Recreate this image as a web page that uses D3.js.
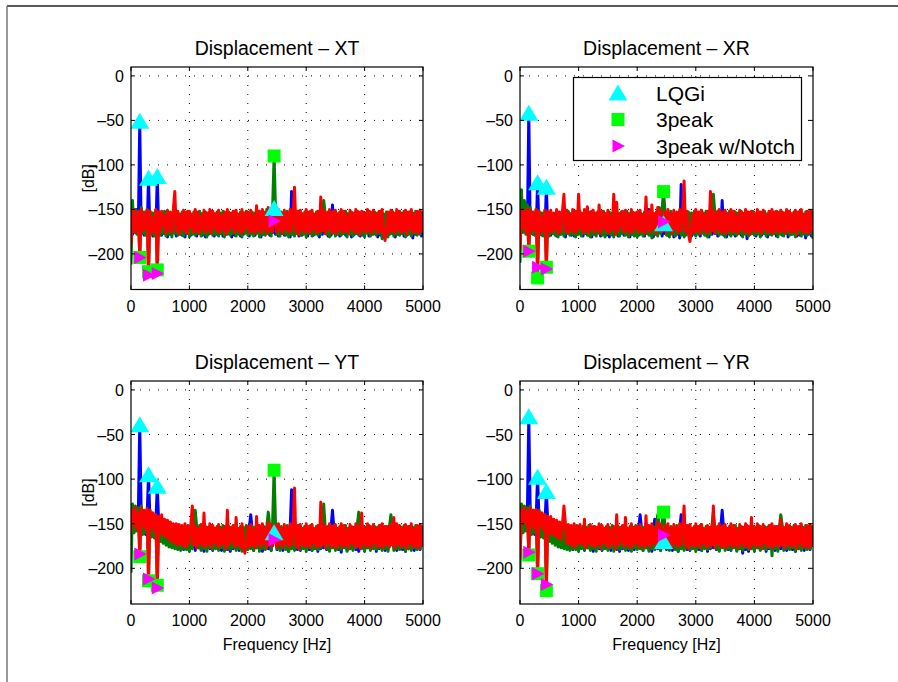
<!DOCTYPE html>
<html>
<head>
<meta charset="utf-8" />
<script src="https://d3js.org/d3.v7.min.js"></script>
<style>
  body { margin: 0; background: #fff; }
  svg { display: block; }
  text { font-family: "Liberation Sans", Arial, Helvetica, sans-serif; fill: #000; }
</style>
</head>
<body>
<svg id="chart"></svg>
<script>
// frequency grid (Hz), one sample every 25 Hz
var freqHz = d3.range(0, 5001, 25);

// sample indices where the markers sit (150, 300, 450, 2450 Hz)
var markerIdx = [6, 12, 18, 98];

// ---------- Displacement - XT ----------
var xtLqgi = [
  -165,-178,-152,-176,-150,-174,-51,-177,-155,-179,-156,-176,-115,-178,-157,-180,-155,-177,-113,-176,
  -156,-179,-158,-177,-155,-181,-157,-178,-156,-176,-158,-180,-155,-177,-157,-179,-156,-181,-158,-177,
  -155,-179,-157,-176,-156,-180,-158,-177,-155,-179,-157,-181,-156,-178,-158,-176,-155,-180,-157,-178,
  -156,-177,-158,-180,-155,-178,-157,-176,-156,-181,-158,-179,-155,-177,-157,-180,-156,-178,-158,-176,
  -155,-180,-157,-177,-156,-179,-158,-176,-155,-181,-157,-178,-156,-177,-154,-179,-156,-176,-149,-178,
  -157,-180,-155,-177,-156,-179,-158,-176,-155,-181,-130,-178,-156,-177,-158,-180,-155,-179,-157,-176,
  -156,-180,-158,-177,-155,-179,-157,-176,-156,-181,-158,-178,-155,-177,-157,-180,-156,-179,-145,-176,
  -155,-178,-157,-180,-156,-177,-158,-179,-155,-176,-157,-181,-156,-178,-158,-177,-155,-180,-157,-179,
  -156,-176,-158,-180,-155,-178,-157,-177,-156,-181,-158,-179,-155,-176,-157,-180,-156,-178,-158,-177,
  -155,-181,-157,-178,-156,-177,-158,-180,-155,-179,-157,-176,-156,-182,-158,-178,-155,-177,-157,-180,
  -170];
var xtPeak3 = [
  -212,-140,-175,-150,-178,-152,-204,-148,-177,-153,-179,-150,-220,-152,-178,-154,-180,-151,-218,-153,
  -179,-154,-177,-152,-180,-155,-178,-153,-181,-154,-177,-152,-179,-155,-178,-153,-180,-154,-177,-152,
  -181,-155,-178,-153,-179,-154,-177,-152,-180,-155,-178,-153,-181,-154,-177,-152,-179,-155,-178,-153,
  -180,-154,-177,-152,-181,-155,-178,-153,-179,-154,-177,-152,-180,-155,-178,-153,-181,-154,-177,-152,
  -179,-155,-178,-153,-180,-154,-177,-152,-181,-155,-178,-153,-179,-150,-177,-152,-180,-149,-90,-152,
  -178,-155,-180,-153,-177,-154,-179,-152,-181,-155,-178,-153,-180,-154,-177,-152,-179,-155,-178,-153,
  -181,-154,-177,-152,-180,-155,-178,-153,-179,-154,-177,-152,-140,-155,-178,-153,-181,-154,-177,-152,
  -180,-155,-178,-153,-179,-154,-177,-152,-181,-155,-178,-153,-180,-154,-177,-152,-179,-155,-178,-153,
  -181,-154,-177,-152,-180,-155,-178,-153,-179,-154,-177,-152,-183,-155,-178,-153,-181,-154,-177,-152,
  -180,-155,-178,-153,-179,-154,-177,-152,-181,-155,-178,-153,-180,-154,-177,-152,-179,-155,-178,-153,
  -176];
var xtNotch = [
  -190,-158,-150,-176,-162,-152,-204,-150,-174,-155,-172,-151,-224,-152,-176,-160,-174,-150,-222,-153,
  -175,-152,-168,-157,-177,-151,-173,-154,-176,-150,-130,-174,-152,-178,-156,-172,-151,-175,-153,-177,
  -152,-170,-156,-176,-150,-174,-153,-177,-158,-172,-151,-176,-154,-173,-150,-177,-152,-171,-155,-175,
  -151,-176,-157,-172,-153,-178,-150,-174,-155,-170,-152,-176,-151,-173,-156,-177,-150,-175,-154,-171,
  -153,-176,-151,-174,-157,-177,-146,-173,-152,-176,-150,-172,-155,-177,-148,-174,-151,-175,-163,-152,
  -176,-150,-173,-155,-177,-151,-172,-154,-176,-150,-174,-156,-125,-175,-152,-178,-151,-173,-155,-176,
  -150,-174,-153,-177,-151,-172,-156,-176,-152,-175,-136,-174,-151,-177,-154,-172,-150,-176,-153,-175,
  -151,-177,-155,-173,-150,-176,-152,-174,-157,-177,-151,-172,-154,-176,-150,-175,-153,-178,-152,-173,
  -155,-176,-150,-174,-153,-177,-151,-172,-156,-176,-152,-175,-150,-177,-185,-173,-153,-176,-151,-174,
  -154,-177,-150,-173,-152,-176,-155,-174,-151,-178,-153,-172,-150,-176,-156,-175,-152,-177,-151,-174,
  -158];

// ---------- Displacement - XR ----------
var xrLqgi = [
  -160,-176,-150,-174,-151,-175,-42,-176,-153,-178,-155,-177,-120,-176,-156,-179,-155,-177,-125,-176,
  -157,-179,-156,-177,-158,-180,-155,-178,-157,-176,-156,-181,-158,-177,-155,-179,-157,-180,-156,-178,
  -158,-176,-155,-180,-157,-177,-156,-179,-158,-181,-155,-178,-157,-176,-156,-180,-158,-177,-155,-179,
  -157,-181,-156,-178,-158,-176,-155,-180,-157,-177,-156,-179,-158,-176,-155,-181,-157,-178,-156,-177,
  -158,-179,-155,-176,-157,-180,-156,-177,-150,-179,-155,-181,-157,-178,-156,-176,-158,-180,-166,-177,
  -155,-179,-157,-176,-156,-181,-158,-178,-155,-182,-122,-177,-157,-179,-156,-176,-158,-180,-155,-178,
  -157,-177,-156,-180,-158,-176,-155,-179,-157,-181,-156,-178,-158,-177,-155,-180,-157,-176,-140,-179,
  -158,-181,-155,-178,-157,-176,-156,-180,-158,-177,-155,-179,-157,-176,-156,-183,-158,-178,-155,-177,
  -157,-180,-156,-176,-158,-179,-155,-177,-157,-181,-156,-178,-158,-176,-155,-180,-157,-177,-156,-179,
  -158,-176,-155,-181,-157,-178,-156,-177,-158,-180,-155,-179,-157,-176,-156,-182,-158,-178,-155,-180,
  -172];
var xrPeak3 = [
  -210,-128,-176,-140,-178,-145,-197,-148,-177,-153,-179,-150,-227,-152,-178,-154,-180,-151,-215,-153,
  -180,-153,-177,-154,-179,-152,-181,-155,-178,-153,-180,-154,-177,-152,-179,-155,-178,-153,-181,-154,
  -178,-152,-180,-155,-177,-153,-179,-154,-181,-152,-178,-155,-180,-153,-177,-154,-179,-152,-181,-155,
  -177,-153,-179,-154,-181,-152,-178,-155,-180,-153,-177,-154,-179,-152,-181,-155,-178,-153,-180,-154,
  -181,-152,-178,-155,-180,-153,-177,-154,-179,-152,-182,-155,-178,-153,-180,-148,-177,-149,-130,-153,
  -179,-154,-181,-152,-178,-155,-180,-153,-177,-154,-179,-152,-181,-155,-178,-153,-180,-154,-177,-152,
  -180,-155,-178,-153,-177,-154,-179,-152,-181,-155,-178,-153,-133,-154,-177,-152,-179,-155,-178,-153,
  -181,-154,-177,-152,-180,-155,-178,-153,-179,-154,-177,-152,-181,-155,-178,-153,-180,-154,-177,-152,
  -179,-155,-178,-153,-181,-154,-177,-152,-180,-155,-178,-153,-179,-154,-177,-152,-181,-155,-178,-153,
  -180,-154,-177,-152,-179,-155,-178,-153,-181,-154,-177,-152,-180,-155,-178,-153,-179,-154,-177,-152,
  -183];
var xrNotch = [
  -195,-150,-170,-153,-176,-149,-197,-151,-175,-154,-172,-150,-215,-152,-176,-158,-174,-151,-217,-153,
  -174,-151,-176,-155,-172,-150,-177,-153,-175,-152,-133,-174,-151,-177,-156,-173,-150,-176,-152,-175,
  -133,-171,-155,-176,-150,-174,-147,-177,-153,-172,-151,-176,-154,-173,-145,-177,-152,-171,-155,-175,
  -151,-176,-157,-172,-133,-178,-142,-174,-155,-170,-152,-176,-151,-173,-156,-177,-150,-175,-154,-171,
  -153,-176,-151,-174,-157,-177,-136,-173,-152,-176,-145,-172,-155,-177,-148,-174,-151,-175,-164,-152,
  -176,-150,-173,-155,-177,-151,-172,-154,-176,-150,-174,-156,-118,-175,-152,-178,-186,-173,-155,-176,
  -150,-174,-153,-177,-151,-172,-156,-176,-152,-175,-130,-174,-151,-177,-154,-172,-150,-176,-153,-175,
  -151,-177,-155,-173,-150,-176,-152,-174,-157,-177,-151,-172,-154,-176,-150,-175,-153,-178,-152,-173,
  -155,-176,-150,-174,-153,-177,-151,-172,-156,-176,-152,-175,-150,-177,-153,-173,-153,-176,-151,-174,
  -154,-177,-150,-173,-152,-176,-155,-174,-151,-178,-153,-172,-150,-176,-156,-175,-152,-177,-151,-174,
  -160];

// ---------- Displacement - YT ----------
var ytLqgi = [
  -155,-140,-160,-138,-158,-142,-39,-140,-160,-142,-162,-144,-95,-146,-164,-148,-165,-150,-108,-150,
  -168,-152,-170,-153,-172,-154,-174,-155,-175,-156,-177,-155,-178,-156,-176,-157,-179,-155,-177,-156,
  -179,-157,-176,-155,-180,-156,-177,-158,-179,-155,-181,-157,-176,-156,-178,-158,-180,-155,-177,-157,
  -176,-156,-180,-158,-177,-155,-179,-157,-181,-156,-178,-158,-176,-155,-180,-157,-177,-156,-179,-158,
  -176,-155,-140,-157,-180,-156,-177,-158,-179,-155,-181,-157,-176,-156,-178,-158,-180,-155,-160,-157,
  -179,-156,-177,-158,-180,-155,-176,-157,-181,-156,-112,-158,-177,-155,-179,-157,-180,-156,-176,-158,
  -177,-155,-179,-157,-180,-156,-176,-158,-181,-155,-178,-157,-177,-156,-179,-158,-180,-155,-135,-157,
  -177,-156,-179,-158,-182,-155,-176,-157,-180,-156,-178,-158,-177,-155,-179,-157,-181,-156,-176,-158,
  -180,-155,-177,-157,-179,-156,-176,-158,-181,-155,-178,-157,-177,-156,-180,-158,-179,-155,-148,-157,
  -176,-156,-180,-158,-177,-155,-179,-157,-181,-156,-178,-158,-176,-155,-180,-157,-177,-156,-179,-158,
  -172];
var ytPeak3 = [
  -205,-128,-160,-130,-158,-132,-187,-130,-162,-135,-160,-136,-214,-135,-165,-138,-166,-140,-219,-142,
  -170,-145,-172,-148,-174,-150,-176,-151,-177,-152,-178,-153,-179,-152,-180,-154,-178,-153,-179,-152,
  -181,-155,-178,-153,-135,-154,-177,-152,-180,-155,-178,-153,-181,-154,-177,-152,-179,-155,-178,-153,
  -180,-154,-177,-152,-181,-155,-178,-153,-179,-154,-177,-152,-180,-155,-178,-153,-181,-154,-177,-152,
  -179,-155,-178,-153,-180,-154,-177,-152,-181,-155,-178,-153,-179,-154,-137,-152,-180,-149,-90,-152,
  -178,-155,-180,-153,-177,-154,-179,-152,-181,-155,-178,-153,-180,-154,-177,-152,-179,-155,-178,-153,
  -181,-154,-177,-152,-180,-155,-178,-153,-179,-154,-177,-152,-128,-155,-178,-153,-181,-154,-177,-152,
  -180,-155,-178,-153,-179,-154,-177,-152,-181,-155,-178,-153,-180,-154,-177,-152,-137,-155,-178,-153,
  -181,-154,-177,-152,-180,-155,-178,-153,-179,-154,-177,-152,-180,-155,-178,-153,-181,-154,-140,-152,
  -180,-155,-178,-153,-179,-154,-177,-152,-181,-155,-178,-153,-180,-154,-177,-152,-179,-155,-178,-153,
  -176];
var ytNotch = [
  -160,-135,-150,-132,-155,-138,-184,-132,-152,-136,-156,-133,-212,-135,-154,-138,-158,-140,-222,-142,
  -160,-140,-163,-145,-165,-146,-168,-148,-170,-150,-172,-150,-174,-151,-173,-152,-175,-150,-176,-153,
  -172,-151,-130,-174,-152,-177,-156,-172,-151,-175,-138,-176,-154,-173,-150,-177,-152,-171,-155,-175,
  -151,-176,-157,-172,-153,-178,-135,-174,-155,-170,-152,-176,-143,-173,-156,-177,-150,-175,-183,-171,
  -153,-176,-151,-174,-157,-177,-142,-173,-152,-176,-150,-172,-155,-177,-148,-174,-151,-175,-168,-152,
  -176,-150,-173,-155,-177,-151,-172,-154,-176,-150,-174,-156,-110,-175,-152,-178,-151,-173,-155,-176,
  -150,-174,-153,-177,-151,-172,-156,-176,-152,-175,-126,-174,-151,-177,-154,-172,-150,-176,-153,-175,
  -151,-177,-155,-173,-150,-176,-152,-174,-157,-177,-151,-172,-154,-176,-150,-175,-153,-178,-138,-173,
  -155,-176,-150,-174,-153,-177,-151,-172,-156,-176,-152,-175,-150,-177,-153,-173,-153,-176,-151,-174,
  -143,-177,-150,-173,-152,-176,-155,-174,-151,-178,-153,-172,-150,-176,-156,-175,-152,-177,-151,-174,
  -170];

// ---------- Displacement - YR ----------
var yrLqgi = [
  -152,-140,-160,-138,-158,-142,-30,-140,-160,-142,-162,-144,-98,-146,-164,-148,-165,-150,-114,-150,
  -168,-152,-170,-153,-172,-154,-174,-155,-175,-156,-177,-155,-178,-156,-176,-157,-179,-155,-177,-156,
  -179,-157,-176,-155,-180,-156,-177,-158,-179,-155,-181,-157,-176,-156,-178,-158,-180,-155,-177,-157,
  -176,-156,-180,-158,-177,-155,-179,-157,-181,-156,-178,-158,-176,-155,-180,-157,-177,-156,-179,-158,
  -176,-155,-140,-157,-180,-156,-177,-158,-179,-155,-181,-157,-145,-156,-178,-158,-180,-155,-170,-157,
  -179,-156,-177,-158,-180,-155,-176,-157,-181,-156,-140,-158,-177,-155,-179,-157,-180,-156,-176,-158,
  -177,-155,-179,-157,-180,-156,-176,-158,-181,-155,-178,-157,-177,-156,-179,-158,-180,-155,-135,-157,
  -177,-156,-179,-158,-180,-155,-176,-157,-180,-156,-178,-158,-183,-155,-179,-157,-181,-156,-176,-158,
  -180,-155,-177,-157,-179,-156,-176,-158,-181,-155,-178,-157,-177,-156,-180,-158,-179,-155,-178,-157,
  -176,-156,-180,-158,-177,-155,-179,-157,-181,-156,-178,-158,-176,-155,-180,-157,-177,-156,-179,-158,
  -172];
var yrPeak3 = [
  -200,-128,-160,-130,-158,-132,-185,-130,-162,-135,-160,-136,-206,-135,-165,-138,-166,-140,-225,-142,
  -170,-145,-172,-148,-174,-150,-176,-151,-177,-152,-178,-153,-179,-152,-180,-154,-178,-153,-179,-152,
  -181,-155,-178,-153,-179,-154,-177,-152,-180,-155,-178,-153,-181,-154,-177,-152,-179,-155,-178,-153,
  -180,-154,-177,-152,-181,-155,-178,-153,-179,-154,-177,-152,-180,-155,-178,-153,-181,-154,-177,-152,
  -179,-155,-178,-153,-180,-154,-177,-152,-181,-155,-178,-153,-179,-154,-140,-152,-180,-149,-137,-152,
  -178,-155,-180,-153,-177,-154,-179,-152,-181,-155,-178,-153,-180,-154,-177,-152,-179,-155,-178,-153,
  -181,-154,-177,-152,-180,-155,-178,-153,-179,-154,-177,-152,-137,-155,-178,-153,-181,-154,-177,-152,
  -180,-155,-178,-153,-179,-154,-177,-152,-181,-155,-178,-153,-180,-154,-177,-152,-179,-155,-178,-153,
  -181,-154,-177,-152,-180,-155,-178,-153,-179,-154,-177,-152,-186,-155,-178,-153,-181,-154,-140,-152,
  -180,-155,-178,-153,-179,-154,-177,-152,-181,-155,-178,-153,-180,-154,-177,-152,-179,-155,-178,-153,
  -176];
var yrNotch = [
  -190,-135,-148,-132,-150,-136,-182,-132,-152,-135,-155,-134,-206,-136,-152,-138,-157,-140,-218,-142,
  -160,-142,-162,-145,-164,-146,-166,-148,-168,-150,-130,-150,-172,-151,-173,-152,-175,-150,-176,-153,
  -172,-151,-170,-174,-145,-177,-156,-172,-151,-175,-153,-176,-154,-173,-150,-177,-152,-171,-155,-175,
  -151,-176,-157,-172,-153,-178,-140,-174,-155,-170,-152,-176,-143,-173,-156,-177,-150,-175,-154,-171,
  -153,-176,-151,-174,-157,-177,-141,-173,-152,-176,-150,-172,-155,-177,-148,-174,-151,-175,-163,-152,
  -176,-150,-173,-155,-177,-151,-172,-154,-176,-150,-174,-156,-130,-175,-152,-178,-151,-173,-155,-176,
  -150,-174,-153,-177,-151,-172,-156,-176,-152,-175,-154,-174,-130,-177,-154,-172,-150,-176,-153,-175,
  -151,-177,-155,-173,-150,-176,-152,-174,-157,-177,-151,-172,-154,-176,-150,-175,-153,-178,-143,-173,
  -155,-176,-150,-174,-153,-177,-151,-172,-156,-176,-152,-175,-150,-177,-153,-173,-153,-176,-145,-174,
  -154,-177,-150,-173,-152,-176,-155,-174,-151,-178,-153,-172,-150,-176,-156,-175,-152,-177,-151,-174,
  -168];

var titles = ["Displacement \u2013 XT", "Displacement \u2013 XR", "Displacement \u2013 YT", "Displacement \u2013 YR"];
var xTicks = [0, 1000, 2000, 3000, 4000, 5000];
var yTicks = [0, -50, -100, -150, -200];
var legendLabels = ["LQGi", "3peak", "3peak w/Notch"];

var panels = [
  { title: titles[0], series: [xtLqgi, xtPeak3, xtNotch] },
  { title: titles[1], series: [xrLqgi, xrPeak3, xrNotch] },
  { title: titles[2], series: [ytLqgi, ytPeak3, ytNotch] },
  { title: titles[3], series: [yrLqgi, yrPeak3, yrNotch] }
];

// styling
var lineColors = ["#0000ff", "#008000", "#ff0000"];
var markColors = ["#00ffff", "#00ff00", "#ff00ff"];
var width = 898, height = 682;
var cols = [[131, 423], [520, 813]];
var rows = [[67, 289.5], [381, 604]];

var svg = d3.select("#chart").attr("width", width).attr("height", height);

// figure frame
svg.append("line").attr("x1", 7).attr("y1", 6).attr("x2", width).attr("y2", 6)
  .attr("stroke", "#222").attr("stroke-width", 1.5);
svg.append("line").attr("x1", 7).attr("y1", 6).attr("x2", 7).attr("y2", height)
  .attr("stroke", "#777").attr("stroke-width", 1.5);

function fmt(d) { return d < 0 ? "\u2013" + Math.abs(d) : String(d); }

// marker shapes, centred on the data point
function markerPath(kind) {
  if (kind === 0) return "M0,-8.5L9.5,7.5L-9.5,7.5Z";        // triangle up
  if (kind === 1) return "M-6.5,-6.5H6.5V6.5H-6.5Z";         // square
  return "M-5.5,-6.5L7,0L-5.5,6.5Z";                          // triangle right
}

panels.forEach(function (p, k) {
  var cx = cols[k % 2], ry = rows[Math.floor(k / 2)];
  var x = d3.scaleLinear().domain([0, 5000]).range(cx);
  var y = d3.scaleLinear().domain([-240, 10]).range([ry[1], ry[0]]);
  var g = svg.append("g");

  g.append("rect").attr("x", cx[0]).attr("y", ry[0])
    .attr("width", cx[1] - cx[0]).attr("height", ry[1] - ry[0]).attr("fill", "#fff");

  // dotted grid
  g.selectAll(".gx").data(xTicks.slice(1, -1)).join("line")
    .attr("x1", function (d) { return x(d); }).attr("x2", function (d) { return x(d); })
    .attr("y1", ry[0]).attr("y2", ry[1])
    .attr("stroke", "#000").attr("stroke-width", 1).attr("stroke-dasharray", "1,8");
  g.selectAll(".gy").data(yTicks).join("line")
    .attr("y1", function (d) { return y(d); }).attr("y2", function (d) { return y(d); })
    .attr("x1", cx[0]).attr("x2", cx[1])
    .attr("stroke", "#000").attr("stroke-width", 1).attr("stroke-dasharray", "1,8");

  var clipId = "clip" + k;
  svg.append("clipPath").attr("id", clipId).append("rect")
    .attr("x", cx[0]).attr("y", ry[0]).attr("width", cx[1] - cx[0]).attr("height", ry[1] - ry[0]);

  var line = d3.line()
    .x(function (d, i) { return x(freqHz[i]); })
    .y(function (d) { return y(d); });

  var lg = g.append("g").attr("clip-path", "url(#" + clipId + ")");
  p.series.forEach(function (s, j) {
    lg.append("path").attr("d", line(s)).attr("fill", "none")
      .attr("stroke", lineColors[j]).attr("stroke-width", 3)
      .attr("stroke-linejoin", "round");
  });

  // markers at the peaks
  p.series.forEach(function (s, j) {
    g.selectAll(".m" + j).data(markerIdx).join("path")
      .attr("transform", function (i) { return "translate(" + x(freqHz[i]) + "," + y(s[i]) + ")"; })
      .attr("d", markerPath(j)).attr("fill", markColors[j]);
  });

  // axes box and inward ticks
  g.append("rect").attr("x", cx[0]).attr("y", ry[0])
    .attr("width", cx[1] - cx[0]).attr("height", ry[1] - ry[0])
    .attr("fill", "none").attr("stroke", "#000").attr("stroke-width", 1.2);
  xTicks.forEach(function (t) {
    g.append("line").attr("x1", x(t)).attr("x2", x(t)).attr("y1", ry[1]).attr("y2", ry[1] - 4).attr("stroke", "#000");
    g.append("line").attr("x1", x(t)).attr("x2", x(t)).attr("y1", ry[0]).attr("y2", ry[0] + 4).attr("stroke", "#000");
  });
  yTicks.forEach(function (t) {
    g.append("line").attr("y1", y(t)).attr("y2", y(t)).attr("x1", cx[0]).attr("x2", cx[0] + 4).attr("stroke", "#000");
    g.append("line").attr("y1", y(t)).attr("y2", y(t)).attr("x1", cx[1]).attr("x2", cx[1] - 4).attr("stroke", "#000");
  });

  // tick labels
  g.selectAll(".xl").data(xTicks).join("text")
    .attr("x", function (d) { return x(d); }).attr("y", ry[1] + 22)
    .attr("text-anchor", "middle").attr("font-size", 16).text(fmt);
  g.selectAll(".yl").data(yTicks).join("text")
    .attr("x", cx[0] - 7).attr("y", function (d) { return y(d) + 6; })
    .attr("text-anchor", "end").attr("font-size", 16).text(fmt);

  // title
  g.append("text").attr("x", (cx[0] + cx[1]) / 2).attr("y", ry[0] - 12)
    .attr("text-anchor", "middle").attr("font-size", 19.5).text(p.title);

  if (k % 2 === 0) {
    g.append("text")
      .attr("transform", "translate(94," + (ry[0] + ry[1]) / 2 + ") rotate(-90)")
      .attr("text-anchor", "middle").attr("font-size", 16).text("[dB]");
  }
  if (k >= 2) {
    g.append("text").attr("x", (cx[0] + cx[1]) / 2).attr("y", ry[1] + 46)
      .attr("text-anchor", "middle").attr("font-size", 16).text("Frequency [Hz]");
  }

  // legend in the XR panel
  if (k === 1) {
    var leg = g.append("g");
    leg.append("rect").attr("x", 573.5).attr("y", 77.5).attr("width", 228).attr("height", 83)
      .attr("fill", "#fff").attr("stroke", "#000").attr("stroke-width", 1.2);
    legendLabels.forEach(function (lab, j) {
      var yy = 93 + j * 26.5;
      leg.append("path").attr("transform", "translate(618," + yy + ")")
        .attr("d", markerPath(j)).attr("fill", markColors[j]);
      leg.append("text").attr("x", 656).attr("y", yy + 7.5)
        .attr("font-size", 21).text(lab);
    });
  }
});
</script>
</body>
</html>
